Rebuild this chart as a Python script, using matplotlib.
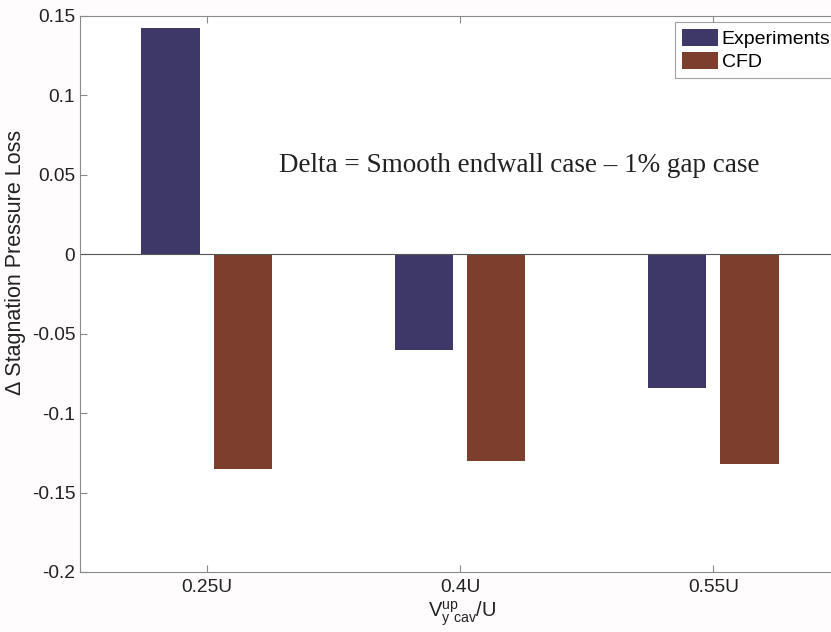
import matplotlib.pyplot as plt
import numpy as np

# values
categories = ['0.25U', '0.4U', '0.55U']
experiments = [0.1425, -0.060, -0.084]
cfd = [-0.135, -0.130, -0.132]

plt.rcParams['font.family'] = ['Liberation Sans', 'DejaVu Sans']

fig = plt.figure(figsize=(8.31, 6.32), dpi=100, facecolor='#fefcfd')
# right edge of the axes goes past the figure, as in the cropped original
ax = fig.add_axes([80 / 831, 1 - 572 / 632, 760 / 831, 556 / 632])
ax.set_facecolor('white')

x = np.arange(1, len(categories) + 1)
w = 0.23
ax.bar(x - 0.143, experiments, w, color='#3d3868', label='Experiments')
ax.bar(x + 0.143, cfd, w, color='#7e3e2e', label='CFD')

ax.set_xlim(0.5, 3.5)
ax.set_ylim(-0.2, 0.15)
ax.set_xticks(x)
ax.set_xticklabels(categories)
ax.set_yticks(np.arange(-0.2, 0.151, 0.05))
ax.set_yticklabels(['-0.2', '-0.15', '-0.1', '-0.05', '0', '0.05', '0.1', '0.15'])
ax.axhline(0, color='#555555', lw=0.8)

for s in ax.spines.values():
    s.set_color('#8a8a8a')
ax.spines['right'].set_visible(False)
ax.tick_params(direction='in', length=5, color='#8a8a8a', labelsize=13.8,
               top=True, labelcolor='#222222')
ax.tick_params(axis='x', pad=5)

ax.set_ylabel('\u0394 Stagnation Pressure Loss', fontsize=15.5, color='#222222')
ax.yaxis.set_label_coords(-0.071, (572 - 262) / 556)
ax.set_xlabel(r'$\mathregular{V^{up}_{y\ cav}/U}$', fontsize=14.5, color='#222222')
ax.xaxis.set_label_coords((462 - 80) / 760, -0.05)
ax.xaxis.label.set_va('top')

ax.text((519 - 80) / 760, (572 - 165) / 556, 'Delta = Smooth endwall case \u2013 1% gap case',
        transform=ax.transAxes, ha='center', va='center', fontsize=19.5,
        family='Liberation Serif', color='#222222')

leg = ax.legend(loc='upper left', bbox_to_anchor=((675 - 80) / 760, (572 - 22) / 556),
                fontsize=14, frameon=True, fancybox=False, borderpad=0.35,
                handlelength=1.85, handleheight=0.95, handletextpad=0.2,
                labelspacing=0.2, borderaxespad=0)
leg.get_frame().set_edgecolor('#8a8a8a')
leg.get_frame().set_linewidth(0.8)

fig.savefig('out.png', dpi=100, facecolor=fig.get_facecolor())
